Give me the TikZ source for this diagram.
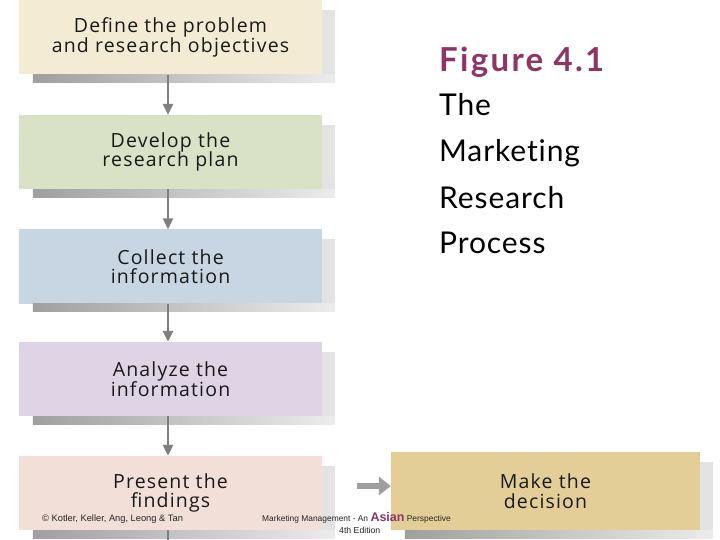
\documentclass[tikz,border=0pt]{standalone}
\usepackage{fontspec}
\setmainfont{Open Sans}
\newfontfamily\boxfont[LetterSpace=6]{Open Sans}
\newfontfamily\titlefont[LetterSpace=7]{Lato}
\newfontfamily\capfont[LetterSpace=3,Ligatures=NoCommon]{Lato}
\newfontfamily\footfont{Liberation Sans}
\usetikzlibrary{arrows.meta}
\definecolor{cA}{HTML}{F3EBD3}
\definecolor{cB}{HTML}{D9E2C6}
\definecolor{cC}{HTML}{C7D6E2}
\definecolor{cD}{HTML}{DFD3E6}
\definecolor{cE}{HTML}{F1DFD8}
\definecolor{cF}{HTML}{E3CE97}
\definecolor{plum}{HTML}{8E3566}
\definecolor{arr}{HTML}{7F7F7F}
\tikzset{
  stepbox/.style={minimum width=303pt, minimum height=74pt, inner sep=0pt, align=center,
    font=\boxfont\fontsize{19.5}{19.5}\selectfont, text=black!90},
  flowarrow/.style={draw=arr, line width=2.5pt, -{Triangle[length=11pt,width=10pt]}},
  captext/.style={anchor=base west, inner sep=0pt, font=\capfont\fontsize{30}{36}\selectfont},
  foottext/.style={anchor=base west, inner sep=0pt, text=black!85},
}
\newcommand{\boxshadow}[1]{%
  \fill[gray!22] ([yshift=-10pt]#1.north east) rectangle ([xshift=13pt,yshift=-8pt]#1.south east);
  \shade[left color=gray!75, right color=gray!15] ([xshift=14pt]#1.south west) rectangle ([xshift=13pt,yshift=-8pt]#1.south east);
}
\begin{document}
\begin{tikzpicture}[x=1pt,y=-1pt]
\useasboundingbox[fill=white] (0,0) rectangle (720,540);
\node[stepbox, fill=cA] (b1) at (170.5,37.5) {Define the problem\\and research objectives};
\node[stepbox, fill=cB] (b2) at (170.5,152) {Develop the\\research plan};
\node[stepbox, fill=cC] (b3) at (170.5,266.5) {Collect the\\information};
\node[stepbox, fill=cD] (b4) at (170.5,379) {Analyze the\\information};
\node[stepbox, fill=cE] (b5) at (170.5,493) {Present the\\findings};
\node[stepbox, fill=cF, minimum width=309pt, minimum height=78pt] (b6) at (545.5,491) {Make the\\decision};
\boxshadow{b1}
\boxshadow{b2}
\boxshadow{b3}
\boxshadow{b4}
\boxshadow{b5}
\boxshadow{b6}
\coordinate (tail) at (168,540);
\draw[flowarrow] (b1.south -| 168,0) -- (b2.north -| 168,0);
\draw[flowarrow] (b2.south -| 168,0) -- (b3.north -| 168,0);
\draw[flowarrow] (b3.south -| 168,0) -- (b4.north -| 168,0);
\draw[flowarrow] (b4.south -| 168,0) -- (b5.north -| 168,0);
\draw[draw=arr, line width=2.5pt] (b5.south -| 168,0) -- (tail);
\coordinate (hstart) at (357,486);
\draw[draw=gray!75, line width=6pt, -{Triangle[length=12pt,width=18pt]}] (hstart) -- (hstart -| b6.west);
\node[anchor=base west, inner sep=0pt, text=plum, font=\titlefont\bfseries\fontsize{33}{36}\selectfont] (fig) at (439,72) {Figure 4.1};
\node[captext] (cap1) at (439,116) {The};
\node[captext] (cap2) at (439,162) {Marketing};
\node[captext] (cap3) at (439,208) {Research};
\node[captext] (cap4) at (439,254) {Process};
\node[foottext, font=\footfont\fontsize{9.3}{10}\selectfont] (copy) at (42,521) {\textcopyright{} Kotler, Keller, Ang, Leong \& Tan};
\node[foottext, font=\footfont\fontsize{8.4}{9}\selectfont] (mm) at (262,521) {Marketing Management - An \textcolor{plum}{\bfseries\fontsize{12.5}{12}\selectfont Asian} Perspective};
\node[foottext, font=\footfont\fontsize{8.7}{9}\selectfont] (ed) at (339,533) {4th Edition};
\end{tikzpicture}
\end{document}
